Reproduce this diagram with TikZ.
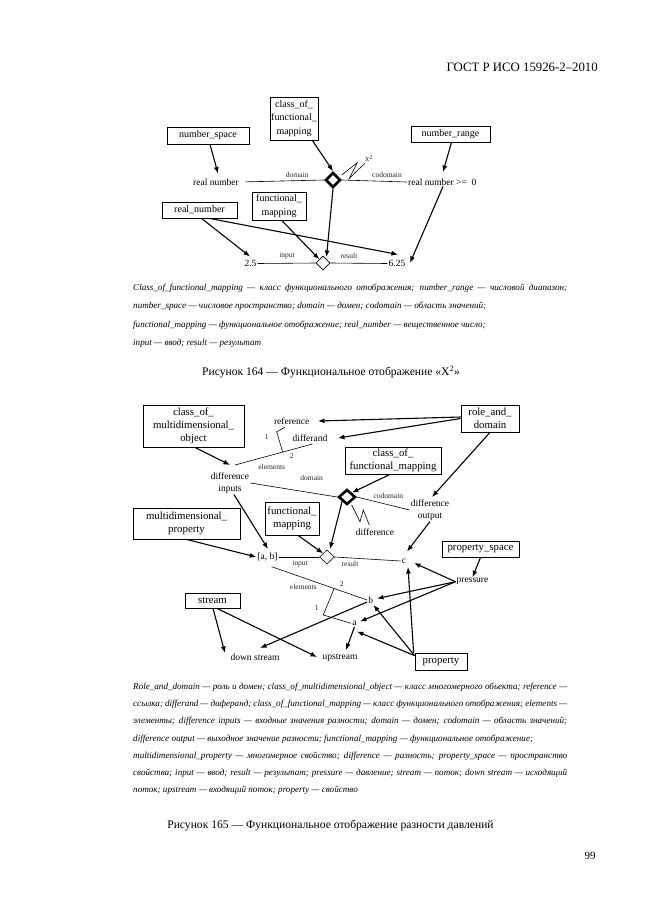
\documentclass[tikz,border=0pt]{standalone}
\usepackage{fontspec}
\setmainfont{Liberation Serif}
\usetikzlibrary{arrows.meta,shapes.geometric,calc}
\newcommand\jline[1]{\makebox[434pt][s]{#1}}
\begin{document}
\begin{tikzpicture}[x=1pt,y=-1pt,
 box/.style={draw,line width=0.8pt,inner sep=0.5pt,align=center},
 bA/.style={box,font=\fontsize{10}{13.3}\selectfont},
 bB/.style={box,font=\fontsize{10.8}{13}\selectfont},
 term/.style={inner sep=1pt,font=\fontsize{9.5}{12}\selectfont,align=center},
 lbl/.style={inner sep=0.5pt,font=\fontsize{7.5}{9}\selectfont,text=black!85},
 arr/.style={line width=1.1pt,-{Latex[length=6.5pt,width=5pt]}},
 thinl/.style={line width=0.6pt},
 leg/.style={anchor=west,inner sep=0pt,font=\fontsize{9.1}{11}\selectfont\itshape},
 capt/.style={inner sep=0pt,font=\fontsize{11.6}{13}\selectfont},
 thickdia/.style={draw,diamond,line width=2.6pt,inner sep=0pt},
 thindia/.style={draw,diamond,line width=0.6pt,inner sep=0pt},
]
\useasboundingbox[fill=white] (0,0) rectangle (661,913);

% header
\node[anchor=east,inner sep=0pt,font=\fontsize{12.8}{14}\selectfont] (hdr) at (598,67) {ГОСТ Р ИСО 15926-2–2010};

% ================= Figure 164 =================
\node[bA,minimum width=48pt,minimum height=43pt] (cfm1) at (294,118.5) {class\_of\_\\functional\_\\mapping};
\node[bA,minimum width=82pt,minimum height=17pt] (nspace) at (208,135.5) {number\_space};
\node[bA,minimum width=79pt,minimum height=16pt] (nrange) at (450.5,134) {number\_range};
\node[bA,minimum width=75pt,minimum height=16pt] (realnum) at (199.5,210) {real\_number};
\node[bA,minimum width=54pt,minimum height=28pt] (fm1) at (279,206) {functional\_\\mapping};

\node[term] (rn) at (216,182) {real number};
\node[term,anchor=west] (rn0) at (407,182) {real number >=\ \ 0};
\node[thickdia,minimum width=15pt,minimum height=15pt] (d1) at (333,180) {};
\node[thindia,minimum width=14pt,minimum height=14pt] (sd1) at (323,263) {};
\node[term] (n25) at (250.5,263.5) {2.5};
\node[term] (n625) at (397,263.5) {6.25};

\node[lbl] (l1) at (297,175) {domain};
\node[lbl] (l2) at (387,175) {codomain};
\node[lbl] (l3) at (287,256) {input};
\node[lbl] (l4) at (349,256) {result};
\node[lbl,font=\fontsize{8.5}{10}\selectfont] (lx) at (369,158.5) {x\textsuperscript{2}};

\draw[thinl,shorten <=5pt] (rn.east) -- (d1.west);
\draw[thinl] (d1.east) -- (rn0.west);
\draw[thinl] (n25.east) -- (sd1.west);
\draw[thinl] (sd1.east) -- (n625.west);
\draw[thinl] (341.7,175) -- (357.3,162.7) -- (349.3,178.3) -- (365,163.3);

\coordinate (t1) at (218,173.5);
\coordinate (t2) at (443,172);
\coordinate (t3) at (326.5,257);
\coordinate (t4) at (250,256.5);
\coordinate (t5) at (398,254.5);
\coordinate (t6) at (410,263);
\draw[arr] ([xshift=2pt]nspace.south) -- (t1);
\draw[arr] ([xshift=-6pt]cfm1.south east) -- (d1.north);
\draw[arr] ([xshift=1pt]nrange.south) -- (t2);
\draw[arr] (d1.south) -- (t3);
\draw[arr] ([xshift=2pt]realnum.south) -- (t4);
\draw[arr] ([xshift=10pt]realnum.south) -- (t5);
\draw[arr] ([xshift=2.7pt]fm1.south) -- (sd1.north west);
\draw[arr] ([xshift=36pt]rn0.south west) -- (t6);

% legend 164
\node[leg] (g1) at (133,288) {\jline{Class\_of\_functional\_mapping — класс функционального отображения; number\_range — числовой диапазон;}};
\node[leg] (g2) at (133,306.5) {number\_space — числовое пространство; domain — домен; codomain — область значений;};
\node[leg] (g3) at (133,325) {functional\_mapping — функциональное отображение; real\_number — вещественное число;};
\node[leg] (g4) at (133,343) {input — ввод; result — результат};
\node[capt] (c164) at (331,372) {Рисунок 164 — Функциональное отображение «X\textsuperscript{2}»};

% ================= Figure 165 =================
\node[bB,minimum width=101pt,minimum height=42pt] (cmo) at (193.5,426) {class\_of\_\\multidimensional\_\\object};
\node[bB,minimum width=58pt,minimum height=27pt] (rad) at (490,418.5) {role\_and\_\\domain};
\node[bB,minimum width=96pt,minimum height=27pt] (cfm2) at (393,460.5) {class\_of\_\\functional\_mapping};
\node[bB,minimum width=54pt,minimum height=33pt] (fm2) at (292,518.5) {functional\_\\mapping};
\node[bB,minimum width=107pt,minimum height=31pt] (mdp) at (186.5,523.5) {multidimensional\_\\property};
\node[bB,minimum width=77pt,minimum height=16pt] (pspace) at (480.5,549) {property\_space};
\node[bB,minimum width=55pt,minimum height=15pt] (stream) at (212.5,600.5) {stream};
\node[bB,minimum width=52pt,minimum height=17pt] (prop) at (441,661.5) {property};

\node[term] (ref) at (291.7,421) {reference};
\node[term] (dif) at (310,437.7) {differand};
\node[term] (dinp) at (230,483) {difference\\inputs};
\node[term] (dout) at (430,510) {difference\\output};
\node[thickdia,minimum width=17pt,minimum height=15pt] (d2) at (347,497) {};
\node[term] (diffl) at (375,531.7) {difference};
\node[term] (ab) at (267.5,557) {[a, b]};
\node[thindia,minimum width=15pt,minimum height=14pt] (sd2) at (327,557) {};
\node[term] (c) at (404,561) {c};
\node[term] (pres) at (472.5,581.7) {pressure};
\node[term] (b) at (370.7,600) {b};
\node[term] (a) at (354.5,623.3) {a};
\node[term] (dstr) at (255,657.3) {down stream};
\node[term] (ustr) at (340,658.3) {upstream};

\node[lbl] (m1) at (266.7,437.3) {1};
\node[lbl] (m2) at (291.7,455.7) {2};
\node[lbl] (m3) at (271.7,467.3) {elements};
\node[lbl] (m4) at (311.7,478.3) {domain};
\node[lbl] (m5) at (388.3,496) {codomain};
\node[lbl] (m6) at (300,564) {input};
\node[lbl] (m7) at (350,564.3) {result};
\node[lbl] (m8) at (303.3,586.7) {elements};
\node[lbl] (m9) at (341.7,584) {2};
\node[lbl] (m10) at (316.7,608.3) {1};

% thin lines 165
\coordinate (bk1) at (235,465);
\coordinate (bk2) at (312.5,444);
\draw[thinl] (bk1) -- (bk2);
\draw[thinl] ($(bk1)!0.615!(bk2)$) -- (276.7,431.7) -- (285,427.3);
\draw[thinl] (dinp.east) -- (d2.west);
\draw[thinl] (d2.east) -- (dout.west);
\draw[thinl] (351.7,505) -- (360,521.7) -- (363.3,510) -- (369.3,525);
\draw[thinl] (ab.east) -- (sd2.west);
\draw[thinl] (sd2.east) -- (c.west);
\coordinate (bk3) at (271.7,566.7);
\draw[thinl] (bk3) -- (b.west);
\draw[thinl] ($(bk3)!0.654!(b.west)$) -- (323.3,615) -- (a.west);

% arrows 165
\coordinate (t7) at (230,465);
\coordinate (t8) at (318,421);
\coordinate (t9) at (338,438);
\coordinate (t10) at (432,497);
\coordinate (t11) at (268,549);
\coordinate (t13) at (330,549);
\coordinate (t14) at (407,551.5);
\coordinate (t15) at (414,563);
\coordinate (t16) at (377,598.5);
\coordinate (t17) at (360,621.5);
\coordinate (t18) at (357,631.5);
\coordinate (t19) at (373.5,605);
\coordinate (t20) at (408,567);
\coordinate (t21) at (225,653);
\coordinate (t22) at (317,657);
\coordinate (t23) at (260,648);
\coordinate (t24) at (346,650);
\draw[arr] ([xshift=1.5pt]cmo.south) -- (t7);
\draw[arr] ([yshift=1.5pt]rad.west) -- (t8);
\draw[arr] ([yshift=0pt]rad.west) -- (t9);
\draw[arr] (rad.south) -- (t10);
\draw[arr] ([xshift=-3pt]cfm2.south) -- (d2.north east);
\draw[arr] ([xshift=4pt]dinp.south) -- (t11);
\draw[arr] (mdp.south) -- (ab.west);
\draw[arr] ([xshift=6pt]fm2.south) -- (sd2.north west);
\draw[arr] (d2.south west) -- (t13);
\draw[arr] (dout.south) -- (t14);
\draw[arr] (pspace.south) -- (pres.north);
\draw[arr] (pres.west) -- (t15);
\draw[arr] (pres.west) -- (t16);
\draw[arr] (pres.west) -- (t17);
\draw[arr] ([yshift=-3pt]prop.north west) -- (t18);
\draw[arr] ([yshift=-3pt]prop.north west) -- (t19);
\draw[arr] ([xshift=-1pt]prop.north west) -- (t20);
\draw[arr] ([xshift=0.5pt]stream.south) -- (t21);
\draw[arr] ([xshift=4.5pt]stream.south) -- (t22);
\draw[arr] ([yshift=-2pt]b.west) -- (t23);
\draw[arr] (a.south) -- (t24);

% legend 165
\node[leg] (h1) at (133,687) {\jline{Role\_and\_domain — роль и домен; class\_of\_multidimensional\_object — класс многомерного обьекта; reference —}};
\node[leg] (h2) at (133,704) {\jline{ссылка; differand — диферанд; class\_of\_functional\_mapping — класс функционального отображения; elements —}};
\node[leg] (h3) at (133,721.5) {\jline{элементы; difference inputs — входные значения разности; domain — домен; codomain — область значений;}};
\node[leg] (h4) at (133,739) {difference output — выходное значение разности; functional\_mapping — функциональное отображение;};
\node[leg] (h5) at (133,756) {\jline{multidimensional\_property — многомерное свойство; difference — разность; property\_space — пространство}};
\node[leg] (h6) at (133,773) {\jline{свойства; input — ввод; result — результат; pressure — давление; stream — поток; down stream — исходящий}};
\node[leg] (h7) at (133,790) {поток; upstream — входящий поток; property — свойство};
\node[capt] (c165) at (330.5,826) {Рисунок 165 — Функциональное отображение разности давлений};

\node[inner sep=0pt,font=\fontsize{11}{13}\selectfont] (pg) at (590,856) {99};
\end{tikzpicture}
\end{document}
